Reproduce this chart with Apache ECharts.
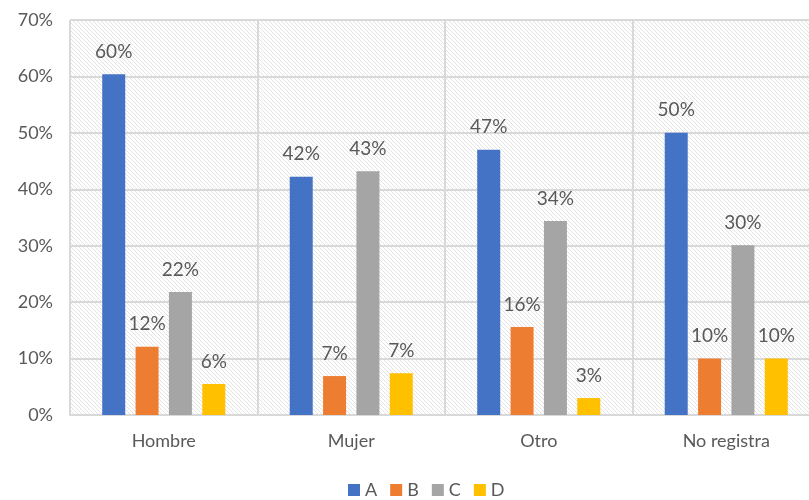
<!DOCTYPE html>
<html>
<head>
<meta charset="utf-8">
<script src="https://cdn.jsdelivr.net/npm/echarts@6/dist/echarts.min.js"></script>
<style>
  html, body { margin: 0; padding: 0; background: #fff; overflow: hidden; }
  #main { width: 822px; height: 500px; }
</style>
</head>
<body>
<div id="main"></div>
<script>
// categorías y series (porcentajes)
var categories = ['Hombre', 'Mujer', 'Otro', 'No registra'];
var seriesNames = ['A', 'B', 'C', 'D'];
var valuesA = [60.4, 42.2, 47.0, 50.0];
var valuesB = [12.1, 6.9, 15.6, 10.0];
var valuesC = [21.8, 43.2, 34.4, 30.1];
var valuesD = [5.5, 7.4, 3.0, 10.0];
var yTicks = [0, 10, 20, 30, 40, 50, 60, 70];
var colors = ['#4472c4', '#ed7d31', '#a5a5a5', '#ffc000'];

// fondo rayado tipo Excel
function hatch() {
  var c = document.createElement('canvas');
  c.width = 8; c.height = 8;
  var ctx = c.getContext('2d');
  ctx.fillStyle = '#ffffff';
  ctx.fillRect(0, 0, 8, 8);
  ctx.strokeStyle = '#e3e3e3';
  ctx.lineWidth = 1;
  for (var k = -8; k <= 8; k += 4) {
    ctx.beginPath();
    ctx.moveTo(k - 1, -1);
    ctx.lineTo(k + 9, 9);
    ctx.stroke();
  }
  return c;
}

var myChart = echarts.init(document.getElementById('main'));
var font = 'Lato, "Liberation Sans", sans-serif';

var allValues = [valuesA, valuesB, valuesC, valuesD];
var series = seriesNames.map(function (name, i) {
  return {
    name: name,
    type: 'bar',
    data: allValues[i],
    barWidth: 23,
    barGap: '45%',
    itemStyle: { color: colors[i] },
    label: {
      show: true,
      position: 'top',
      distance: 13,
      color: '#595959',
      fontSize: 19,
      fontFamily: font,
      formatter: function (p) { return Math.round(p.value) + '%'; }
    }
  };
});

var option = {
  color: colors,
  animation: false,
  grid: {
    left: 70, right: 2, top: 20, bottom: 85,
    show: true,
    borderWidth: 0,
    backgroundColor: { image: hatch(), repeat: 'repeat' }
  },
  legend: {
    data: seriesNames,
    top: 476,
    left: 343,
    itemWidth: 12,
    itemHeight: 12,
    itemGap: 13,
    icon: 'rect',
    textStyle: { color: '#595959', fontSize: 18, fontFamily: font }
  },
  xAxis: {
    type: 'category',
    data: categories,
    axisTick: { show: false },
    axisLine: { lineStyle: { color: '#d9d9d9', width: 2 } },
    splitLine: { show: true, lineStyle: { color: '#d9d9d9', width: 2 } },
    axisLabel: { color: '#595959', fontSize: 18, fontFamily: font, margin: 17 }
  },
  yAxis: {
    type: 'value',
    min: yTicks[0],
    max: yTicks[yTicks.length - 1],
    interval: 10,
    axisLine: { show: false },
    axisTick: { show: false },
    splitLine: { lineStyle: { color: '#d9d9d9', width: 2 } },
    axisLabel: { color: '#595959', fontSize: 18, fontFamily: font, margin: 17, formatter: '{value}%' }
  },
  series: series
};

myChart.setOption(option);
</script>
</body>
</html>
